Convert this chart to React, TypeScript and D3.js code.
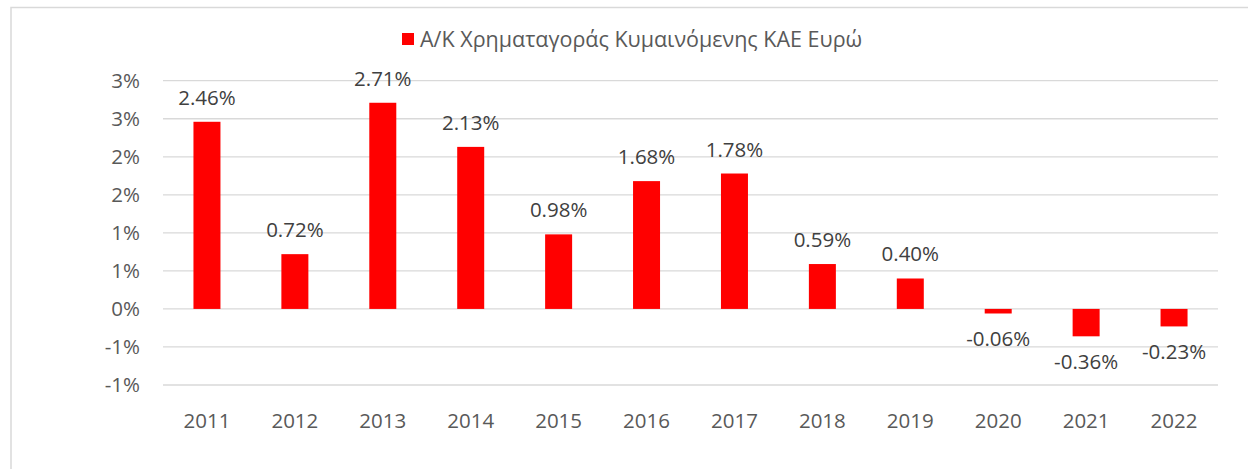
import React from "react";
import * as d3 from "d3";

const years = ["2011", "2012", "2013", "2014", "2015", "2016", "2017", "2018", "2019", "2020", "2021", "2022"];
const values = [2.46, 0.72, 2.71, 2.13, 0.98, 1.68, 1.78, 0.59, 0.40, -0.06, -0.36, -0.23];
const valueLabels = ["2.46%", "0.72%", "2.71%", "2.13%", "0.98%", "1.68%", "1.78%", "0.59%", "0.40%", "-0.06%", "-0.36%", "-0.23%"];
const tickValues = [3, 2.5, 2, 1.5, 1, 0.5, 0, -0.5, -1];
const tickLabels = ["3%", "3%", "2%", "2%", "1%", "1%", "0%", "-1%", "-1%"];
const seriesName = "Α/Κ Χρηματαγοράς Κυμαινόμενης ΚΑΕ Ευρώ";

const W = 1248;
const H = 469;
const FONT = "'Open Sans', 'Liberation Sans', sans-serif";
const RED = "#ff0000";
const GRID = "#d9d9d9";

export default function App() {
  const x = d3.scaleBand<string>().domain(years).range([163, 1218]).paddingInner(0.69).paddingOuter(0.345);
  const y = d3.scaleLinear().domain([-1, 3]).range([385, 80.7]);
  const bw = x.bandwidth();

  return (
    <svg
      width={W}
      height={H}
      style={{ position: "absolute", left: 0, top: 0, background: "#fff" }}
      fontFamily={FONT}
    >
      <rect x={11} y={7.5} width={W + 10} height={H + 10} fill="#fff" stroke={GRID} strokeWidth={1.5} />
      {/* legend */}
      <rect x={402} y={33} width={12} height={12} fill={RED} />
      <text x={420} y={47} fontSize={21.5} fill="#595959">{seriesName}</text>
      {/* grid */}
      {tickValues.map((t, i) => (
        <g key={"g" + i}>
          <line x1={163} x2={1218} y1={y(t)} y2={y(t)} stroke={GRID} strokeWidth={1.3} />
          <text x={140} y={y(t)} dy="0.35em" textAnchor="end" fontSize={20.5} fill="#595959">
            {tickLabels[i]}
          </text>
        </g>
      ))}
      {/* bars */}
      {values.map((v, i) => {
        const xc = (x(years[i]) as number) + bw / 2;
        const top = y(Math.max(v, 0));
        const bot = y(Math.min(v, 0));
        const ly = v >= 0 ? top - 17 : bot + 33;
        return (
          <g key={"b" + i}>
            <rect x={xc - 13.5} y={top} width={27} height={bot - top} fill={RED} />
            <text x={xc} y={ly} textAnchor="middle" fontSize={20.5} fill="#404040">
              {valueLabels[i]}
            </text>
            <text x={xc} y={428} textAnchor="middle" fontSize={20.5} fill="#595959">
              {years[i]}
            </text>
          </g>
        );
      })}
    </svg>
  );
}
